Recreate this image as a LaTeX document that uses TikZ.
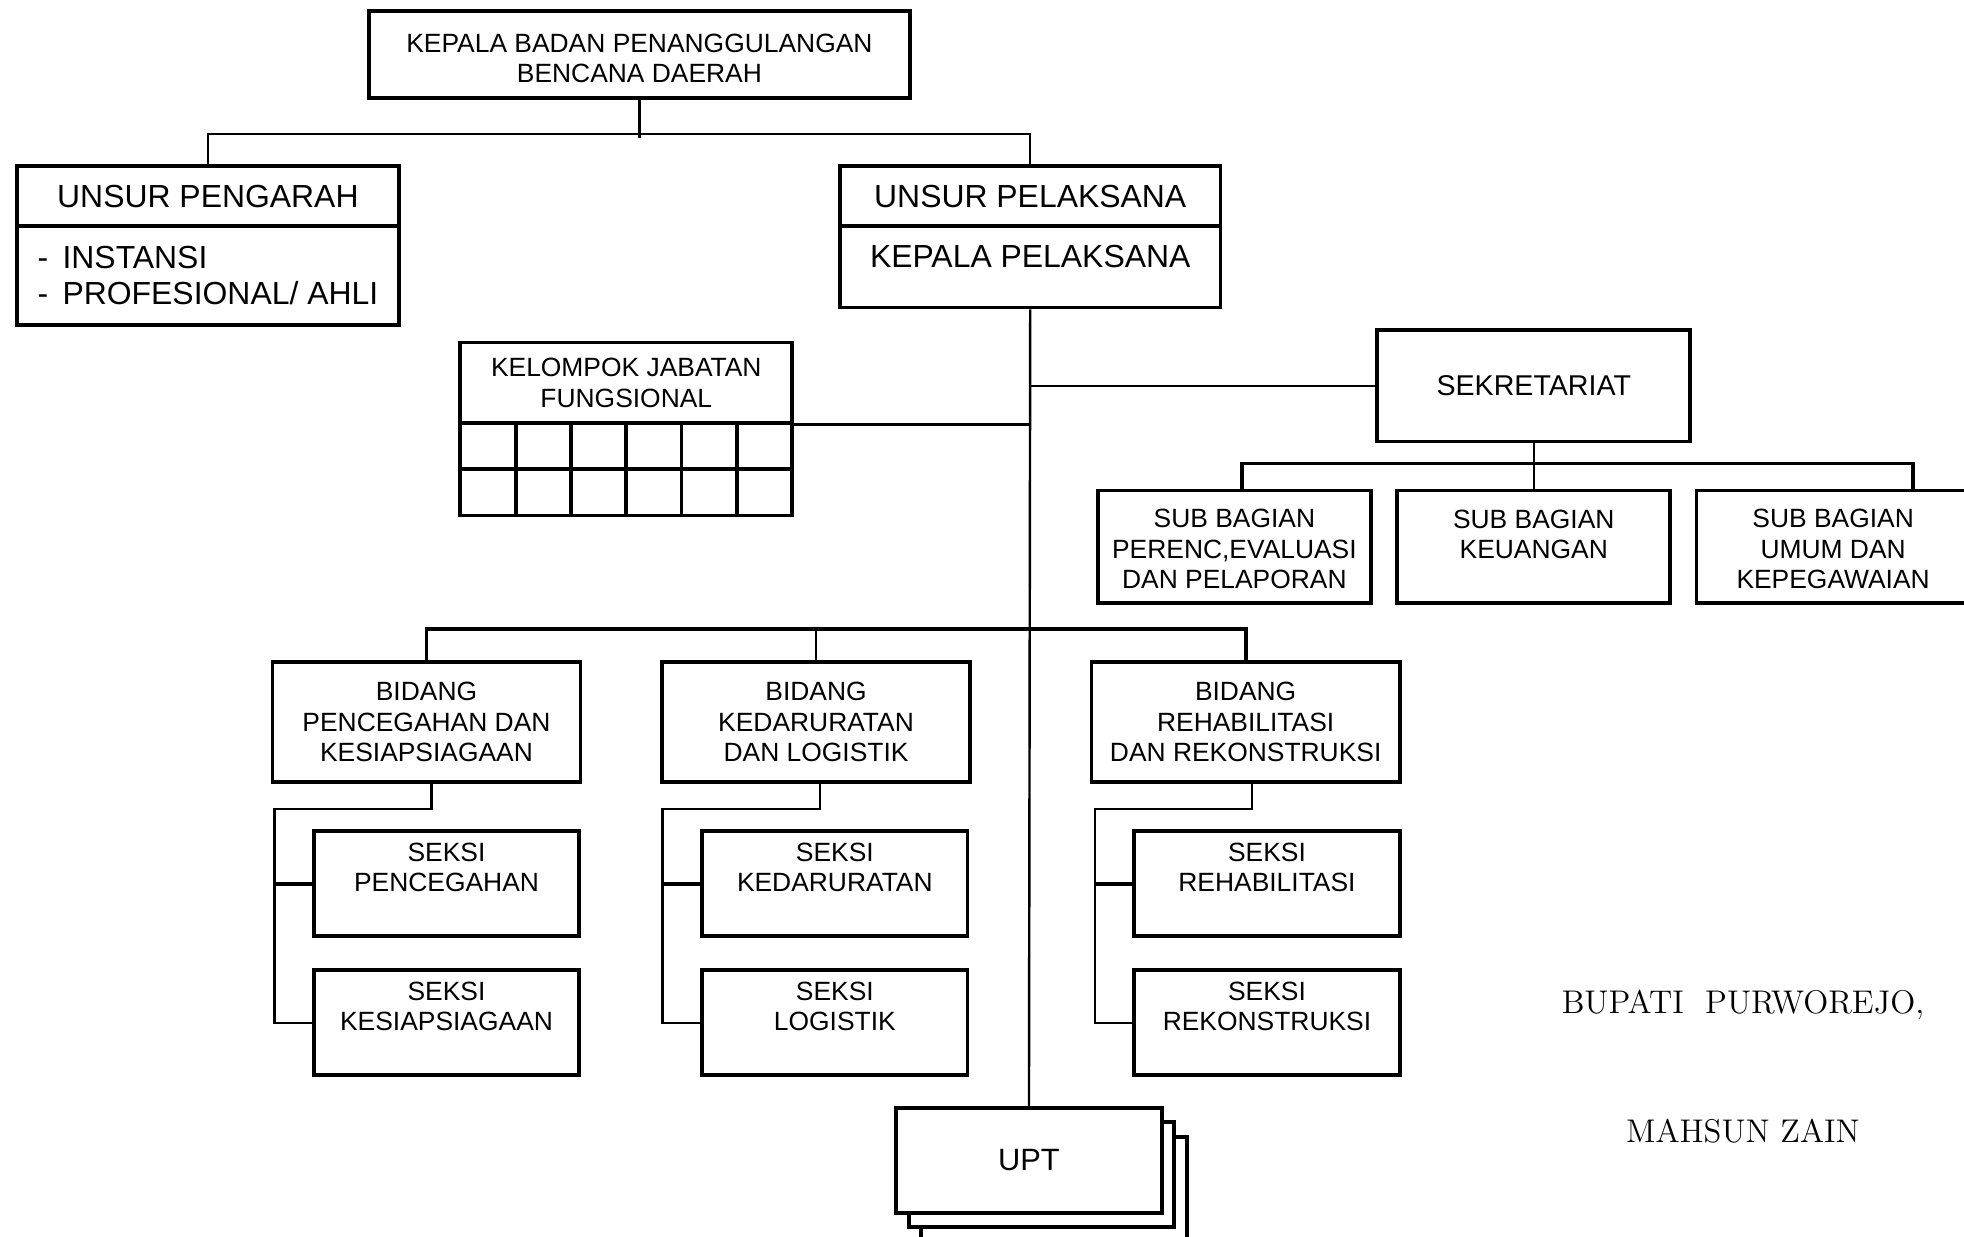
\documentclass[tikz,border=0pt]{standalone}
\usepackage{fontspec}
\setsansfont{Liberation Sans}
\usetikzlibrary{calc}

\begin{document}
\begin{tikzpicture}[x=0.02cm, y=-0.02cm,
    box/.style={draw, line width=1.7pt, fill=white, inner sep=0pt, align=center,
      anchor=north west, font=\sffamily\fontsize{12}{13.9}\selectfont},
    boxsize/.style 2 args={minimum width=#1*0.02cm, minimum height=#2*0.02cm},
    toptext/.style 2 args={text height=#1, text depth=#2},
    big/.style={font=\sffamily\fontsize{14.5}{16.5}\selectfont},
    conn/.style={line width=1.1pt},
    bus/.style={line width=1.7pt},
    sig/.style={font=\rmfamily\fontsize{14.9}{17}\selectfont}]
  \useasboundingbox (0,0) rectangle (1568,987);

  \node[box, boxsize={432}{70}, toptext={1.15cm}{0.25cm},
    font=\sffamily\fontsize{12}{13.7}\selectfont] (top) at (293,7)
    {KEPALA BADAN PENANGGULANGAN\\BENCANA DAERAH};

  \node[box, big, boxsize={305}{48}] (peng) at (12,131) {UNSUR PENGARAH};
  \node[box, big, boxsize={305}{79}, align=left] (pengbody) at (12,179)
    {-\kern0.45em INSTANSI\\-\kern0.45em PROFESIONAL/ AHLI};
  \node[box, big, boxsize={304}{48}] (pel) at (669,131) {UNSUR PELAKSANA};
  \node[box, big, boxsize={304}{65}, toptext={0.66cm}{0.64cm}] (pelbody) at (669,179)
    {KEPALA PELAKSANA};

  \node[box, boxsize={265}{64}] (kjf) at (366,272) {KELOMPOK JABATAN\\FUNGSIONAL};
  \foreach \i in {0,...,5}
    \foreach \j in {0,1}
      \node[box, boxsize={44.167}{37}] (cell-\j-\i) at (366+\i*44.167, 336+\j*37) {};

  \node[box, boxsize={250}{89}, font=\sffamily\fontsize{13}{15}\selectfont] (sek) at (1098,262)
    {SEKRETARIAT};
  \node[box, boxsize={218}{90}, toptext={1.57cm}{0.23cm}] (sb1) at (875,390)
    {SUB BAGIAN\\PERENC,EVALUASI\\DAN PELAPORAN};
  \node[box, boxsize={218}{90}, toptext={1.09cm}{0.71cm}] (sb2) at (1114,390)
    {SUB BAGIAN\\KEUANGAN};
  \node[box, boxsize={218}{90}, toptext={1.57cm}{0.23cm}] (sb3) at (1353,390)
    {SUB BAGIAN\\UMUM DAN\\KEPEGAWAIAN};

  \node[box, boxsize={246}{96}] (b1) at (216,527) {BIDANG\\PENCEGAHAN DAN\\KESIAPSIAGAAN};
  \node[box, boxsize={246}{96}] (b2) at (527,527) {BIDANG\\KEDARURATAN\\DAN LOGISTIK};
  \node[box, boxsize={246}{96}] (b3) at (870,527) {BIDANG\\REHABILITASI\\DAN REKONSTRUKSI};

  \node[box, boxsize={212}{84}, toptext={0.97cm}{0.71cm}] (s1a) at (249,662) {SEKSI\\PENCEGAHAN};
  \node[box, boxsize={212}{84}, toptext={0.97cm}{0.71cm}] (s1b) at (249,773) {SEKSI\\KESIAPSIAGAAN};
  \node[box, boxsize={212}{84}, toptext={0.97cm}{0.71cm}] (s2a) at (559,662) {SEKSI\\KEDARURATAN};
  \node[box, boxsize={212}{84}, toptext={0.97cm}{0.71cm}] (s2b) at (559,773) {SEKSI\\LOGISTIK};
  \node[box, boxsize={212}{84}, toptext={0.97cm}{0.71cm}] (s3a) at (904,662) {SEKSI\\REHABILITASI};
  \node[box, boxsize={212}{84}, toptext={0.97cm}{0.71cm}] (s3b) at (904,773) {SEKSI\\REKONSTRUKSI};

  \node[box, boxsize={212}{84}] (upt3) at (734,906) {};
  \node[box, boxsize={212}{84}] (upt2) at (724,894) {};
  \node[box, boxsize={212}{84}, font=\sffamily\fontsize{14}{16}\selectfont] (upt) at (714,883) {UPT};

  \node[sig] (bupati) at (1391.5,802) {BUPATI\ \ PURWOREJO,};
  \node[sig] (nama) at (1391.5,903) {MAHSUN ZAIN};

  \draw[conn] (top.south) -- ++(0,30);
  \draw[conn] (peng.north) -- ++(0,-24) -| (pel.north);
  \draw[conn] (pelbody.south) -- (upt.north);
  \draw[bus] (kjf.south east) -- (kjf.south east -| pelbody.south);
  \draw[conn] (sek.west) -- (sek.west -| pelbody.south);

  \draw[conn] (sek.south) -- (sb2.north);
  \draw[bus] ($(sb1.north)+(6,0)$) -- ++(0,-20) -| ($(sb3.north)+(64,0)$);

  \draw[bus] (b1.north) -- ++(0,-25) -| (b3.north);
  \draw[conn] (b2.north) -- ++(0,-25);

  \draw[conn] ($(b1.south)+(4,0)$) -- ++(0,20) -| ($(s1b.west)+(-30,0)$) -- (s1b.west);
  \draw[bus] (s1a.west) -- ++(-30,0);
  \draw[conn] ($(b2.south)+(3,0)$) -- ++(0,20) -| ($(s2b.west)+(-30,0)$) -- (s2b.west);
  \draw[bus] (s2a.west) -- ++(-30,0);
  \draw[conn] ($(b3.south)+(5,0)$) -- ++(0,20) -| ($(s3b.west)+(-30,0)$) -- (s3b.west);
  \draw[bus] (s3a.west) -- ++(-30,0);
\end{tikzpicture}
\end{document}
